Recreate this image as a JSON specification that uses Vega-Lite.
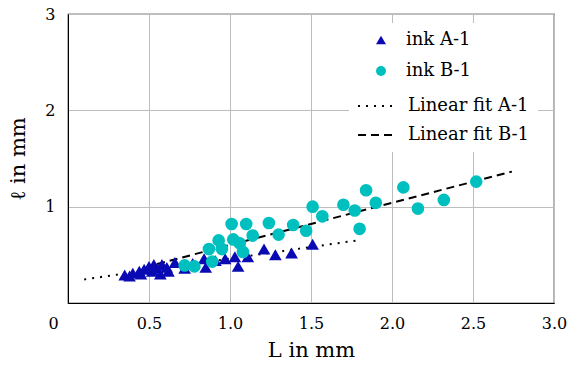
{
  "$schema": "https://vega.github.io/schema/vega-lite/v6.json",
  "width": 486,
  "height": 289,
  "autosize": {"type": "none"},
  "padding": {"left": 68, "top": 14, "right": 18, "bottom": 67},
  "background": "white",
  "config": {
    "font": "DejaVu Serif",
    "view": {"stroke": "#000", "strokeWidth": 1.2},
    "axis": {"labelFont": "DejaVu Serif", "titleFont": "DejaVu Serif", "labelColor": "#000", "titleColor": "#000", "labelFontSize": 16, "titleFontSize": 21, "titleFontWeight": "normal", "gridColor": "#bdbdbd", "gridWidth": 1, "domainColor": "#000", "ticks": false},
    "legend": {"labelFont": "DejaVu Serif"}
  },
  "layer": [
    {
      "data": {"values": [
        {"L": 0.1, "l": 0.245, "fit": "Linear fit A-1"},
        {"L": 1.8, "l": 0.653, "fit": "Linear fit A-1"},
        {"L": 0.55, "l": 0.405, "fit": "Linear fit B-1"},
        {"L": 2.74, "l": 1.364, "fit": "Linear fit B-1"}
      ]},
      "mark": {"type": "line", "color": "#000", "strokeWidth": 2},
      "encoding": {
        "x": {"field": "L", "type": "quantitative", "scale": {"domain": [0, 3], "nice": false},
          "axis": {"values": [0, 0.5, 1, 1.5, 2, 2.5, 3], "labelExpr": "datum.value == 0 ? '0' : format(datum.value, '.1f')", "labelOffset": {"condition": {"test": "datum.value == 0", "value": -15}, "value": 0}, "labelPadding": 12, "labelFlush": false, "labelOverlap": false, "labelBound": false, "title": "L in mm", "titlePadding": 8}},
        "y": {"field": "l", "type": "quantitative", "scale": {"domain": [0, 3], "nice": false},
          "axis": {"values": [1, 2, 3], "format": "d", "labelPadding": 13, "labelFlush": false, "labelOverlap": false, "title": "ℓ in mm", "titlePadding": 16}},
        "strokeDash": {"field": "fit", "type": "nominal", "scale": {"domain": ["Linear fit A-1", "Linear fit B-1"], "range": [[2, 6], [8, 5]]},
          "legend": {"title": null, "orient": "none", "legendX": 281, "legendY": 64, "padding": 8, "fillColor": "white", "symbolType": "stroke", "symbolSize": 1444, "symbolStrokeColor": "#000", "symbolStrokeWidth": 2, "labelFontSize": 18, "labelLimit": 300, "labelColor": "#000", "labelOffset": 11, "rowPadding": -7}}
      }
    },
    {
      "data": {"values": [
        {"L": 0.35, "l": 0.29, "series": "ink A-1"},
        {"L": 0.38, "l": 0.28, "series": "ink A-1"},
        {"L": 0.40, "l": 0.31, "series": "ink A-1"},
        {"L": 0.44, "l": 0.33, "series": "ink A-1"},
        {"L": 0.45, "l": 0.30, "series": "ink A-1"},
        {"L": 0.47, "l": 0.35, "series": "ink A-1"},
        {"L": 0.50, "l": 0.38, "series": "ink A-1"},
        {"L": 0.52, "l": 0.33, "series": "ink A-1"},
        {"L": 0.53, "l": 0.40, "series": "ink A-1"},
        {"L": 0.55, "l": 0.36, "series": "ink A-1"},
        {"L": 0.57, "l": 0.30, "series": "ink A-1"},
        {"L": 0.58, "l": 0.40, "series": "ink A-1"},
        {"L": 0.61, "l": 0.37, "series": "ink A-1"},
        {"L": 0.62, "l": 0.33, "series": "ink A-1"},
        {"L": 0.66, "l": 0.42, "series": "ink A-1"},
        {"L": 0.72, "l": 0.36, "series": "ink A-1"},
        {"L": 0.77, "l": 0.41, "series": "ink A-1"},
        {"L": 0.84, "l": 0.46, "series": "ink A-1"},
        {"L": 0.85, "l": 0.37, "series": "ink A-1"},
        {"L": 0.91, "l": 0.44, "series": "ink A-1"},
        {"L": 0.97, "l": 0.46, "series": "ink A-1"},
        {"L": 1.03, "l": 0.48, "series": "ink A-1"},
        {"L": 1.05, "l": 0.38, "series": "ink A-1"},
        {"L": 1.11, "l": 0.48, "series": "ink A-1"},
        {"L": 1.21, "l": 0.56, "series": "ink A-1"},
        {"L": 1.28, "l": 0.50, "series": "ink A-1"},
        {"L": 1.38, "l": 0.52, "series": "ink A-1"},
        {"L": 1.51, "l": 0.61, "series": "ink A-1"},
        {"L": 0.72, "l": 0.39, "series": "ink B-1"},
        {"L": 0.78, "l": 0.38, "series": "ink B-1"},
        {"L": 0.87, "l": 0.56, "series": "ink B-1"},
        {"L": 0.89, "l": 0.43, "series": "ink B-1"},
        {"L": 0.93, "l": 0.65, "series": "ink B-1"},
        {"L": 0.95, "l": 0.56, "series": "ink B-1"},
        {"L": 1.01, "l": 0.82, "series": "ink B-1"},
        {"L": 1.02, "l": 0.66, "series": "ink B-1"},
        {"L": 1.06, "l": 0.62, "series": "ink B-1"},
        {"L": 1.08, "l": 0.53, "series": "ink B-1"},
        {"L": 1.10, "l": 0.82, "series": "ink B-1"},
        {"L": 1.14, "l": 0.70, "series": "ink B-1"},
        {"L": 1.24, "l": 0.83, "series": "ink B-1"},
        {"L": 1.30, "l": 0.71, "series": "ink B-1"},
        {"L": 1.39, "l": 0.81, "series": "ink B-1"},
        {"L": 1.47, "l": 0.75, "series": "ink B-1"},
        {"L": 1.51, "l": 1.00, "series": "ink B-1"},
        {"L": 1.57, "l": 0.90, "series": "ink B-1"},
        {"L": 1.70, "l": 1.02, "series": "ink B-1"},
        {"L": 1.77, "l": 0.96, "series": "ink B-1"},
        {"L": 1.80, "l": 0.77, "series": "ink B-1"},
        {"L": 1.84, "l": 1.17, "series": "ink B-1"},
        {"L": 1.90, "l": 1.04, "series": "ink B-1"},
        {"L": 2.07, "l": 1.20, "series": "ink B-1"},
        {"L": 2.16, "l": 0.98, "series": "ink B-1"},
        {"L": 2.32, "l": 1.07, "series": "ink B-1"},
        {"L": 2.52, "l": 1.26, "series": "ink B-1"}
      ]},
      "mark": {"type": "point", "filled": true, "opacity": 1, "size": 160},
      "encoding": {
        "x": {"field": "L", "type": "quantitative"},
        "y": {"field": "l", "type": "quantitative"},
        "shape": {"field": "series", "type": "nominal", "scale": {"domain": ["ink A-1", "ink B-1"], "range": ["triangle-up", "circle"]},
          "legend": {"title": null, "orient": "none", "legendX": 296, "legendY": 9, "padding": 8, "fillColor": "white", "symbolSize": 100, "labelFontSize": 18, "labelColor": "#000", "labelOffset": 16, "rowPadding": 13,
            "encode": {"symbols": {
              "fill": {"condition": {"test": "datum.value === 'ink A-1'", "value": "#ffffff"}, "value": "#00BFBF"},
              "stroke": {"condition": {"test": "datum.value === 'ink A-1'", "value": "#0A0AB4"}, "value": "#00BFBF"},
              "strokeWidth": {"value": 1.8}}}}},
        "color": {"field": "series", "type": "nominal", "scale": {"domain": ["ink A-1", "ink B-1"], "range": ["#0A0AB4", "#00BFBF"]},
          "legend": {"title": null, "orient": "none", "legendX": 296, "legendY": 9, "padding": 8, "fillColor": "white", "symbolSize": 100, "labelFontSize": 18, "labelColor": "#000", "labelOffset": 16, "rowPadding": 13,
            "encode": {"symbols": {
              "fill": {"condition": {"test": "datum.value === 'ink A-1'", "value": "#ffffff"}, "value": "#00BFBF"},
              "stroke": {"condition": {"test": "datum.value === 'ink A-1'", "value": "#0A0AB4"}, "value": "#00BFBF"},
              "strokeWidth": {"value": 1.8}}}}}
      }
    }
  ]
}
